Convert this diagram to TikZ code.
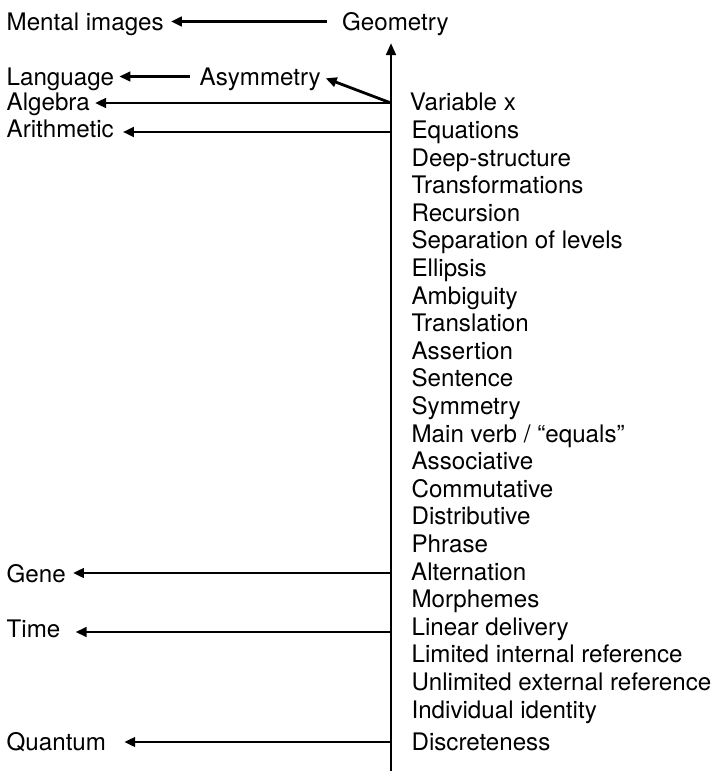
\documentclass[tikz,border=0pt]{standalone}
\usepackage{fontspec}
\setmainfont{TeX Gyre Heros}
\usetikzlibrary{arrows.meta}
\begin{document}
\begin{tikzpicture}[x=1pt,y=-1pt,
  lbl/.style={anchor=base west, inner sep=0pt, text height=17pt, text depth=0pt,
              font=\fontsize{24.15}{28}\selectfont},
  arr/.style={line width=2.8pt, -{Triangle[length=11pt,width=9.5pt]}},
  axis/.style={line width=2.8pt, -{Triangle[length=12pt,width=9.5pt]}},
  ]
\useasboundingbox (0,0) rectangle (715,771);

% left-hand labels
\node[lbl] (mental) at (6.5,30)  {Mental images};
\node[lbl] (geo)    at (342,30)  {Geometry};
\node[lbl] (lang)   at (6.5,85)  {Language};
\node[lbl] (asym)   at (199.5,85) {Asymmetry};
\node[lbl] (alg)    at (6.5,110) {Algebra};
\node[lbl] (arith)  at (6.5,137) {Arithmetic};
\node[lbl] (gene)   at (6.5,582) {Gene};
\node[lbl] (time)   at (6.5,637) {Time};
\node[lbl] (quant)  at (6.5,750) {Quantum};

% right-hand column
\node[lbl] (r0)  at (409.7,110)   {Variable x};
\node[lbl] (r1)  at (411.4,138.5) {Equations};
\node[lbl] (r2)  at (411.4,166.1) {Deep-structure};
\node[lbl] (r3)  at (411.4,193.7) {Transformations};
\node[lbl] (r4)  at (411.4,221.3) {Recursion};
\node[lbl] (r5)  at (411.4,248.9) {Separation of levels};
\node[lbl] (r6)  at (411.4,276.5) {Ellipsis};
\node[lbl] (r7)  at (411.4,304.1) {Ambiguity};
\node[lbl] (r8)  at (411.4,331.7) {Translation};
\node[lbl] (r9)  at (411.4,359.3) {Assertion};
\node[lbl] (r10) at (411.4,386.9) {Sentence};
\node[lbl] (r11) at (411.4,414.5) {Symmetry};
\node[lbl] (r12) at (411.4,442.1) {Main verb / “equals”};
\node[lbl] (r13) at (411.4,469.7) {Associative};
\node[lbl] (r14) at (411.4,497.3) {Commutative};
\node[lbl] (r15) at (411.4,524.9) {Distributive};
\node[lbl] (r16) at (411.4,552.5) {Phrase};
\node[lbl] (r17) at (411.0,580.1) {Alternation};
\node[lbl] (r18) at (411.4,607.7) {Morphemes};
\node[lbl] (r19) at (411.4,635.3) {Linear delivery};
\node[lbl] (r20) at (411.4,662.9) {Limited internal reference};
\node[lbl] (r21) at (411.4,690.5) {Unlimited external reference};
\node[lbl] (r22) at (411.4,718.1) {Individual identity};
\node[lbl] (r23) at (411.4,750)   {Discreteness};

% the vertical axis and its branch points
\coordinate (bot)  at (391,771);
\coordinate (top)  at (391,43);
\coordinate (vAlg) at (391,103);
\coordinate (vAri) at (391,132);
\coordinate (vGen) at (391,573);
\coordinate (vTim) at (391,632);
\coordinate (vQua) at (391,742);

\draw[axis] (bot) -- (top);

% connectors
\draw[arr, shorten <=15pt, shorten >=7pt] (geo.west) -- (geo.west -| mental.east);
\draw[arr, shorten <=10pt, shorten >=5pt] (asym.west) -- (asym.west -| lang.east);
\draw[arr, shorten >=5pt] (vAlg) -- (asym.east);
\draw[arr, shorten >=5pt] (vAlg) -- (vAlg -| alg.east);
\draw[arr, shorten >=9pt] (vAri) -- (vAri -| arith.east);
\draw[arr, shorten >=7pt] (vGen) -- (vGen -| gene.east);
\draw[arr, shorten >=15pt] (vTim) -- (vTim -| time.east);
\draw[arr, shorten >=18pt] (vQua) -- (vQua -| quant.east);
\end{tikzpicture}
\end{document}
